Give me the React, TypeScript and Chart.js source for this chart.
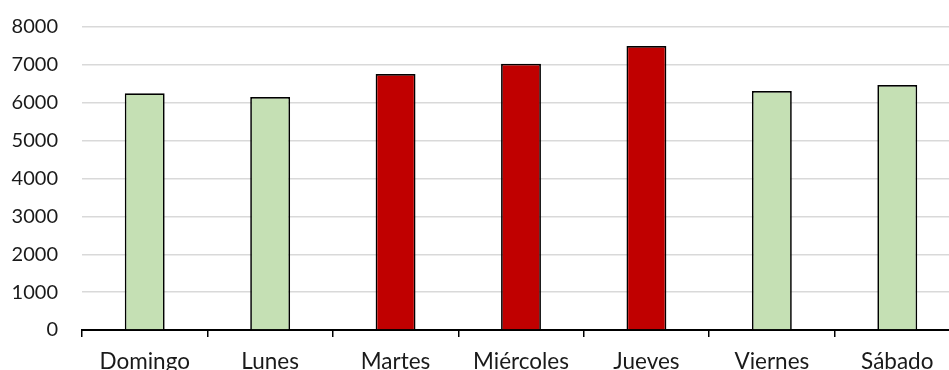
import React, { useEffect, useRef } from "react";
import { Chart, registerables } from "chart.js";

Chart.register(...registerables);

const dias = ["Domingo", "Lunes", "Martes", "Miércoles", "Jueves", "Viernes", "Sábado"];
const valores = [6250, 6150, 6760, 7030, 7500, 6310, 6470];
const destacados = [false, false, true, true, true, false, false];

const VERDE = "#C5E0B4";
const ROJO = "#C00000";
const FUENTE = "Lato, 'Open Sans', sans-serif";

export default function App() {
  const canvasRef = useRef<HTMLCanvasElement | null>(null);

  useEffect(() => {
    const ctx = canvasRef.current;
    if (!ctx) return;
    const chart = new Chart(ctx, {
      type: "bar",
      data: {
        labels: dias,
        datasets: [
          {
            data: valores,
            backgroundColor: destacados.map((d) => (d ? ROJO : VERDE)),
            borderColor: "#000000",
            borderWidth: 1.7,
            borderSkipped: "bottom",
            categoryPercentage: 1,
            barPercentage: 0.318,
          },
        ],
      },
      options: {
        responsive: false,
        animation: false,
        plugins: { legend: { display: false }, tooltip: { enabled: false } },
        layout: { padding: { top: 27, right: 0, left: 0, bottom: 0 } },
        scales: {
          x: {
            offset: true,
            grid: {
              offset: true,
              drawOnChartArea: false,
              drawTicks: true,
              tickLength: 7,
              color: "#000000",
              lineWidth: 1.5,
            },
            border: { display: true, color: "#000000", width: 2 },
            ticks: {
              color: "#1a1a1a",
              padding: 11,
              font: { family: FUENTE, size: 22.5 },
              maxRotation: 0,
              autoSkip: false,
            },
            afterFit: (scale: any) => {
              scale.height = 45;
            },
          },
          y: {
            min: 0,
            max: 8000,
            ticks: {
              stepSize: 1000,
              color: "#1a1a1a",
              padding: 4,
              font: { family: FUENTE, size: 20 },
              callback: (v: any) => String(v),
            },
            grid: {
              color: "#D9D9D9",
              lineWidth: 1.5,
              drawTicks: true,
              tickLength: 20,
              tickColor: "rgba(0,0,0,0)",
            },
            border: { display: false },
            afterFit: (scale: any) => {
              scale.width = 82;
            },
          },
        },
      },
    });
    return () => chart.destroy();
  }, []);

  return (
    <div
      style={{
        position: "fixed",
        left: 0,
        top: 0,
        width: 949,
        height: 370,
        overflow: "hidden",
        background: "#ffffff",
      }}
    >
      <canvas ref={canvasRef} width={960} height={375} />
    </div>
  );
}
